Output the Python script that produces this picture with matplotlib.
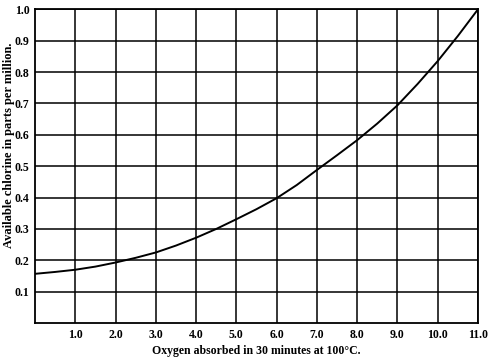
import matplotlib
matplotlib.use('Agg')
import matplotlib.pyplot as plt

# values
oxygen = [0.0, 0.5, 1.0, 1.5, 2.0, 2.5, 3.0, 3.5, 4.0, 4.5, 5.0, 5.5,
          6.0, 6.5, 7.0, 7.5, 8.0, 8.5, 9.0, 9.5, 10.0, 10.5, 11.0]
chlorine = [0.157, 0.163, 0.170, 0.180, 0.193, 0.208, 0.225, 0.247, 0.272, 0.300, 0.331, 0.363,
            0.398, 0.440, 0.488, 0.535, 0.583, 0.636, 0.694, 0.762, 0.835, 0.915, 1.0]

xticks = [1.0, 2.0, 3.0, 4.0, 5.0, 6.0, 7.0, 8.0, 9.0, 10.0, 11.0]
yticks = [0.1, 0.2, 0.3, 0.4, 0.5, 0.6, 0.7, 0.8, 0.9, 1.0]

plt.rcParams['font.family'] = ['Liberation Serif', 'DejaVu Serif']

fig = plt.figure(figsize=(5, 3.57), dpi=100)
ax = fig.add_axes([0.07, 0.095, 0.886, 0.879])

for xv in xticks:
    ax.axvline(xv, color='black', lw=1.1, zorder=1)
for yv in yticks:
    ax.axhline(yv, color='black', lw=1.1, zorder=1)

ax.plot(oxygen, chlorine, color='black', lw=1.4, zorder=2)

ax.set_xlim(0, 11)
ax.set_ylim(0, 1.0)
ax.set_xticks(xticks)
ax.set_xticklabels(['%.1f' % v for v in xticks], fontsize=8.5, fontweight='bold')
ax.set_yticks(yticks)
ax.set_yticklabels(['%.1f' % v for v in yticks], fontsize=8.5, fontweight='bold')
ax.tick_params(length=0, pad=4)
for s in ax.spines.values():
    s.set_linewidth(1.3)

ax.set_xlabel('Oxygen absorbed in 30 minutes at 100°C.', fontsize=8.5, fontweight='bold', labelpad=3)
ax.set_ylabel('Available chlorine in parts per million.', fontsize=9, fontweight='bold')
ax.yaxis.set_label_coords(-0.046, 0.567)

fig.savefig('out.png', dpi=100)
